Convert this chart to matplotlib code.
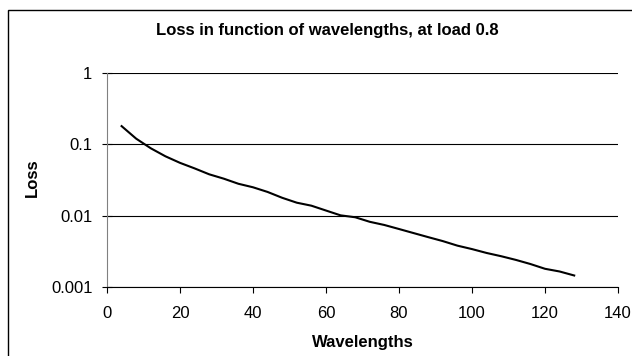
import matplotlib.pyplot as plt
from matplotlib.patches import Rectangle
from matplotlib.ticker import FixedLocator, FixedFormatter, NullLocator

plt.rcParams['font.family'] = ['Liberation Sans', 'DejaVu Sans']

# wavelengths and loss values
wavelengths = [4, 8, 12, 16, 20, 24, 28, 32, 36, 40, 44, 48, 52, 56, 60, 64,
               68, 72, 76, 80, 84, 88, 92, 96, 100, 104, 108, 112, 116, 120, 124, 128]
loss = [0.18, 0.12, 0.088, 0.068, 0.055, 0.046, 0.038, 0.033, 0.028, 0.025,
        0.0215, 0.0178, 0.0152, 0.0138, 0.0118, 0.0101, 0.0095, 0.0082, 0.0074,
        0.0065, 0.0057, 0.0050, 0.0044, 0.0038, 0.0034, 0.0030, 0.0027, 0.0024,
        0.0021, 0.0018, 0.00165, 0.00145]

y_ticks = [0.001, 0.01, 0.1, 1]
y_labels = ['0.001', '0.01', '0.1', '1']
x_ticks = [0, 20, 40, 60, 80, 100, 120, 140]

fig = plt.figure(figsize=(6.32, 3.56), dpi=100)
# outer chart border (cropped at right and bottom)
fig.patches.append(Rectangle((8 / 632, -0.1), 1.0, 1 - 10 / 356 + 0.1,
                             transform=fig.transFigure, fill=False,
                             edgecolor='black', linewidth=1.0))

ax = fig.add_axes([107 / 632, 1 - 287 / 356, (618 - 107) / 632, (287 - 73) / 356])
ax.plot(wavelengths, loss, color='black', linewidth=1.5)
ax.set_yscale('log')
ax.set_ylim(0.001, 1)
ax.set_xlim(0, 140)

ax.yaxis.set_major_locator(FixedLocator(y_ticks))
ax.yaxis.set_major_formatter(FixedFormatter(y_labels))
ax.yaxis.set_minor_locator(NullLocator())
ax.set_xticks(x_ticks)
ax.grid(axis='y', color='black', linewidth=0.8)

for s in ['top', 'right']:
    ax.spines[s].set_visible(False)
ax.spines['left'].set_color('#808080')
ax.spines['bottom'].set_color('black')
ax.tick_params(axis='both', labelsize=12, color='black')
ax.tick_params(axis='x', direction='out', length=4, pad=10)
ax.tick_params(axis='y', direction='inout', length=7, pad=7)

fig.text(327 / 632, 1 - 31 / 356, 'Loss in function of wavelengths, at load 0.8',
         fontsize=12, fontweight='bold', ha='center', va='center')
ax.set_xlabel('Wavelengths', fontsize=12, fontweight='bold', va='center')
ax.set_ylabel('Loss', fontsize=12, fontweight='bold', va='center')
ax.xaxis.set_label_coords(0.5, (287 - 343) / 214)
ax.yaxis.set_label_coords((32 - 107) / 511, (287 - 178) / 214)

fig.savefig('out.png', dpi=100)
